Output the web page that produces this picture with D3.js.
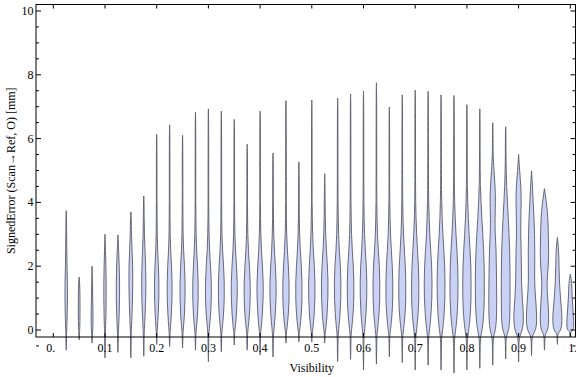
<!DOCTYPE html>
<html><head><meta charset="utf-8">
<script src="https://cdn.jsdelivr.net/npm/d3@7"></script>
<style>
body{margin:0;background:#fff}
svg{display:block}
text{font-family:"Liberation Serif","Times New Roman",serif;fill:#000}
</style>
</head><body>
<svg id="chart" width="576" height="377"></svg>
<script>
// ---- data ----
const visibility = [0.025,0.05,0.075,0.1,0.125,0.15,0.175,0.2,0.225,0.25,
  0.275,0.3,0.325,0.35,0.375,0.4,0.425,0.45,0.475,0.5,
  0.525,0.55,0.575,0.6,0.625,0.65,0.675,0.7,0.725,0.75,
  0.775,0.8,0.825,0.85,0.875,0.9,0.925,0.95,0.975,1.0];
const maxError = [3.74,1.66,2.0,3.0,2.98,3.7,4.2,6.13,6.43,6.1,
  6.83,6.93,6.86,6.6,5.82,6.86,5.55,7.19,5.27,7.21,
  4.9,7.27,7.4,7.49,7.75,6.99,7.37,7.52,7.48,7.37,
  7.35,7.06,6.93,6.5,6.37,5.5,4.99,4.43,2.9,1.75];
const minError = [-0.63,-0.31,-0.41,-0.87,-0.7,-0.87,-0.82,-0.45,-0.52,-0.56,
  -0.63,-0.99,-0.68,-0.47,-0.63,-0.78,-0.84,-0.41,-0.37,-0.37,
  -0.41,-0.99,-0.92,-1.25,-1.07,-0.84,-1.02,-1.25,-1.1,-1.25,
  -1.35,-1.25,-1.2,-1.1,-0.9,-1.0,-0.8,-0.63,-0.45,-0.22];
// density half-widths at these error levels
const levels = [0,0.5,1,1.5,2,2.5,3,3.5,4,4.5,5];
const density = [
  [0.5,1.0,1.3,1.2,0.8,0.5,0.4,0.3],
  [0.6,0.9,0.9,0.5],
  [0.8,1.0,0.6,0.4,0.3],
  [0.5,1.0,1.2,1.2,0.9,0.5,0.3],
  [0.6,1.3,1.7,1.7,1.3,0.7,0.3],
  [0.5,1.2,1.7,2.0,1.9,1.2,0.6,0.4],
  [0.6,1.4,2.0,2.2,1.9,1.2,0.6,0.4,0.3],
  [0.6,1.6,2.2,2.3,1.8,0.9,0.5,0.4,0.3],
  [0.7,1.8,2.5,2.5,2.0,1.0,0.5,0.4,0.3],
  [0.7,2.0,2.6,2.6,2.0,1.0,0.5,0.4,0.3],
  [0.8,2.2,2.8,2.8,2.1,1.1,0.6,0.4,0.3],
  [0.8,2.3,3.0,3.0,2.2,1.1,0.6,0.4,0.3],
  [0.8,2.3,3.0,3.0,2.3,1.2,0.6,0.4,0.3],
  [0.8,2.3,3.0,3.1,2.3,1.2,0.6,0.4,0.3],
  [0.8,2.4,3.1,3.1,2.3,1.2,0.6,0.4,0.3],
  [0.9,2.4,3.1,3.2,2.4,1.3,0.7,0.4,0.3],
  [0.9,2.4,3.1,3.2,2.4,1.3,0.7,0.4,0.3],
  [0.9,2.5,3.2,3.2,2.5,1.4,0.7,0.4,0.3],
  [0.9,2.5,3.2,3.2,2.5,1.4,0.7,0.4,0.3],
  [1.0,2.5,3.2,3.3,2.6,1.5,0.8,0.5,0.3],
  [1.0,2.5,3.2,3.4,2.8,1.6,0.9,0.6,0.4],
  [1.0,2.5,3.2,3.4,2.8,1.6,0.9,0.6,0.4],
  [1.0,2.6,3.3,3.4,2.8,1.7,0.9,0.6,0.4],
  [1.1,2.6,3.3,3.4,2.9,1.8,1.0,0.6,0.4],
  [1.1,2.7,3.4,3.5,3.0,1.9,1.0,0.6,0.4],
  [1.2,2.8,3.5,3.5,3.0,2.0,1.1,0.7,0.4],
  [1.3,2.9,3.6,3.6,3.1,2.1,1.2,0.7,0.5],
  [1.4,3.0,3.7,3.7,3.3,2.3,1.4,0.8,0.5],
  [1.5,3.0,3.8,4.0,3.6,2.6,1.6,1.0,0.6],
  [1.7,3.2,3.9,4.0,3.7,2.8,1.8,1.1,0.7],
  [1.8,3.3,4.0,4.1,3.8,3.0,2.0,1.2,0.7],
  [2.0,3.5,4.2,4.2,4.0,3.2,2.2,1.4,0.8,0.5],
  [2.5,4.0,4.5,4.5,4.4,3.8,3.0,2.0,1.2,0.6],
  [3.0,4.0,4.0,3.8,3.6,3.4,2.4,2.2,2.8,2.4,1.2],
  [3.5,4.3,4.4,4.4,4.3,4.0,3.4,2.6,1.8,1.0,0.5],
  [4.5,5.0,3.6,2.8,2.8,2.6,2.0,2.2,2.7,2.4,1.0],
  [5.0,5.3,4.0,3.0,3.2,3.3,3.0,2.6,1.6,1.0],
  [4.0,4.4,3.2,2.2,4.0,4.3,3.8,3.6,2.0],
  [4.5,4.7,3.0,2.0,1.6,1.4],
  [4.0,3.0,1.8,1.5]
];
const xTicks = [0,0.1,0.2,0.3,0.4,0.5,0.6,0.7,0.8,0.9,1.0];
const xTickLabels = ["0.","0.1","0.2","0.3","0.4","0.5","0.6","0.7","0.8","0.9","1."];
const yTicks = [0,2,4,6,8,10];
const yMinorTicks = [-0.5,0,0.5,1,1.5,2,2.5,3,3.5,4,4.5,5,5.5,6,6.5,7,7.5,8,8.5,9,9.5,10];

// ---- layout ----
const svg = d3.select("#chart");
const frame = {left:36, right:575.5, top:4.5, bottom:337};
const x = d3.scaleLinear().domain([0,1]).range([53.3,570.3]);
const y = d3.scaleLinear().domain([0,10]).range([330,11]);
const w = d3.scaleLinear().domain([0,1]).range([0,1]);

// violins
const area = d3.area()
  .y(d => y(d.v))
  .x0(d => d.cx - w(d.h))
  .x1(d => d.cx + w(d.h))
  .curve(d3.curveBasis);

const g = svg.append("g");
visibility.forEach((vis,i) => {
  const cx = x(vis);
  const lo = minError[i], hi = maxError[i];
  const prof = density[i];
  const pts = [{v:lo,h:0,cx},{v:lo*0.6,h:0.3,cx},{v:lo*0.2,h:0.35,cx}];
  let last = 0;
  prof.forEach((h,j) => {
    if (levels[j] < hi - 0.15) { pts.push({v:levels[j],h,cx}); last = levels[j]; }
  });
  if (last + 0.5 < hi - 0.2) pts.push({v:last+0.5,h:0.3,cx});
  if (hi - 0.3 > last + 0.5) pts.push({v:hi-0.3,h:0.28,cx});
  pts.push({v:hi,h:0,cx});
  g.append("path")
    .attr("d", area(pts))
    .attr("fill", "#c9d1f5")
    .attr("stroke", "#5a5a66")
    .attr("stroke-width", 0.9)
    .attr("stroke-linejoin", "round");
});

// frame
svg.append("rect")
  .attr("x", frame.left).attr("y", frame.top)
  .attr("width", frame.right-frame.left).attr("height", frame.bottom-frame.top)
  .attr("fill", "none").attr("stroke", "#000").attr("stroke-width", 1);

// ticks (left, right, bottom, top)
const tk = svg.append("g").attr("stroke","#000").attr("stroke-width",1);
yMinorTicks.forEach(t => {
  const major = yTicks.includes(t);
  const len = major ? 5 : 3;
  tk.append("line").attr("x1",frame.left).attr("x2",frame.left+len).attr("y1",y(t)).attr("y2",y(t));
  tk.append("line").attr("x1",frame.right).attr("x2",frame.right-len).attr("y1",y(t)).attr("y2",y(t));
});
xTicks.forEach(t => {
  tk.append("line").attr("x1",x(t)).attr("x2",x(t)).attr("y1",frame.bottom).attr("y2",frame.bottom-4);
  tk.append("line").attr("x1",x(t)).attr("x2",x(t)).attr("y1",frame.top).attr("y2",frame.top+4);
});

// labels
svg.append("g").selectAll("text").data(yTicks).join("text")
  .attr("x", frame.left-2.5).attr("y", d => y(d)+4)
  .attr("text-anchor","end").attr("font-size",12).text(d => d);
svg.append("g").selectAll("text").data(xTicks).join("text")
  .attr("x", d => x(d)).attr("y", frame.bottom+15)
  .attr("dx", (d,i) => i === 0 ? -2.5 : (i === xTicks.length-1 ? 2.5 : 0))
  .attr("text-anchor","middle").attr("font-size",12).text((d,i) => xTickLabels[i]);
svg.append("text").attr("x", x(0.5)).attr("y", 372)
  .attr("text-anchor","middle").attr("font-size",12).text("Visibility");
svg.append("text").attr("transform", `translate(14.5,${(frame.top+frame.bottom)/2}) rotate(-90)`)
  .attr("text-anchor","middle").attr("font-size",12).text("SignedError (Scan\u2192Ref, O) [mm]");
</script>
</body></html>
